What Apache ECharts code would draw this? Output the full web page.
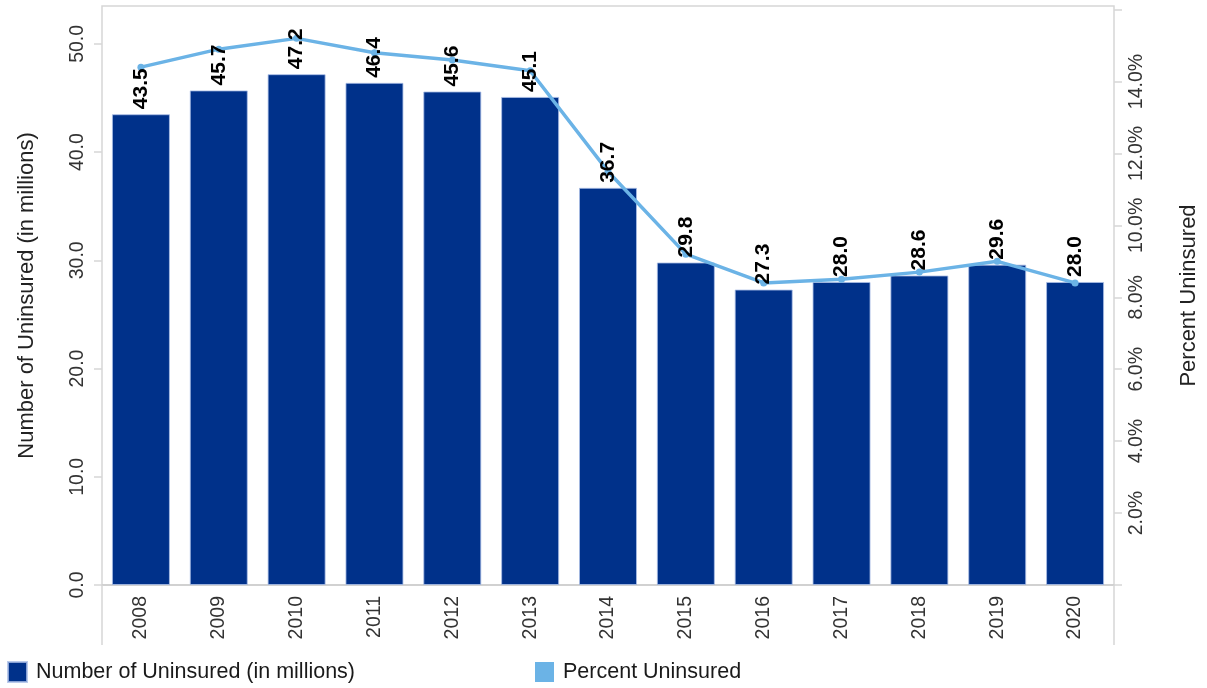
<!DOCTYPE html>
<html>
<head>
<meta charset="utf-8">
<script src="https://cdn.jsdelivr.net/npm/echarts@6/dist/echarts.min.js"></script>
<style>
html,body{margin:0;padding:0;background:#fff;}
#chart{width:1207px;height:688px;}
</style>
</head>
<body>
<div id="chart"></div>
<script>
const years = ['2008','2009','2010','2011','2012','2013','2014','2015','2016','2017','2018','2019','2020'];
const uninsuredMillions = [43.5, 45.7, 47.2, 46.4, 45.6, 45.1, 36.7, 29.8, 27.3, 28.0, 28.6, 29.6, 28.0];
const percentUninsured = [14.4, 14.9, 15.2, 14.8, 14.6, 14.3, 11.5, 9.2, 8.4, 8.5, 8.7, 9.0, 8.4];
const seriesNames = ['Number of Uninsured (in millions)', 'Percent Uninsured'];
const leftAxisName = 'Number of Uninsured (in millions)';
const rightAxisName = 'Percent Uninsured';

const FONT = '"Liberation Sans", Arial, sans-serif';
const chart = echarts.init(document.getElementById('chart'), null, {renderer: 'canvas'});

chart.setOption({
  animation: false,
  backgroundColor: '#ffffff',
  textStyle: {fontFamily: FONT},
  grid: {
    left: 102, right: 93, top: 6, bottom: 103,
    show: true, borderColor: '#d6d6d6', borderWidth: 1.5,
    outerBoundsMode: 'none'
  },
  legend: {
    left: 7, top: 661, padding: 0,
    icon: 'rect',
    itemWidth: 19, itemHeight: 20, itemGap: 180,
    textStyle: {fontSize: 21.5, color: '#1a1a1a', fontFamily: FONT, padding: [0,0,0,4]},
    data: seriesNames
  },
  xAxis: {
    type: 'category',
    data: years,
    boundaryGap: true,
    axisLine: {show: true, lineStyle: {color: '#cccccc', width: 1.5}},
    axisTick: {show: true, length: 60, lineStyle: {color: '#d6d6d6', width: 1.5},
      interval: function (i) { return i === 0; }},
    axisLabel: {interval: 0, rotate: 90, margin: 11, fontSize: 19.5, color: '#333', fontFamily: FONT},
    splitLine: {show: false}
  },
  yAxis: [
    {
      type: 'value', min: 0, max: 53.5, interval: 10,
      name: leftAxisName, nameLocation: 'middle', nameGap: 64,
      nameTextStyle: {fontSize: 22, color: '#222', fontFamily: FONT},
      axisLine: {show: false},
      axisTick: {show: true, length: 8, lineStyle: {color: '#d6d6d6', width: 1.5}},
      axisLabel: {rotate: 90, margin: 14, fontSize: 19.5, color: '#333', fontFamily: FONT,
        showMaxLabel: false,
        formatter: function (v) { return (Math.abs(v % 10) < 1e-6) ? v.toFixed(1) : ''; }},
      splitLine: {show: false}
    },
    {
      type: 'value', min: 0, max: 16.1, interval: 2,
      name: rightAxisName, nameLocation: 'middle', nameGap: 64,
      nameTextStyle: {fontSize: 22, color: '#222', fontFamily: FONT},
      axisLine: {show: false},
      axisTick: {show: true, length: 8, lineStyle: {color: '#d6d6d6', width: 1.5}},
      axisLabel: {rotate: 90, margin: 13, fontSize: 19.5, color: '#333', fontFamily: FONT,
        showMaxLabel: false,
        formatter: function (v) { return (v > 0.5 && v < 15) ? v.toFixed(1) + '%' : ''; }},
      splitLine: {show: false}
    }
  ],
  series: [
    {
      name: seriesNames[0],
      type: 'bar',
      yAxisIndex: 0,
      data: uninsuredMillions,
      barWidth: 58,
      itemStyle: {color: '#00318A', borderColor: 'rgba(170,190,230,0.8)', borderWidth: 1},
      z: 1
    },
    {
      name: seriesNames[1],
      type: 'line',
      yAxisIndex: 1,
      data: percentUninsured,
      symbol: 'circle', symbolSize: 7,
      lineStyle: {color: '#6BB3E6', width: 3.5},
      itemStyle: {color: '#6BB3E6'},
      z: 2
    },
    {
      name: 'labels',
      type: 'bar',
      yAxisIndex: 0,
      data: uninsuredMillions,
      barWidth: 58,
      barGap: '-100%',
      itemStyle: {color: 'rgba(0,0,0,0)'},
      silent: true,
      label: {
        show: true, position: 'top', rotate: 90, align: 'left', verticalAlign: 'middle',
        distance: 5, fontSize: 21, fontWeight: 'bold', color: '#000', fontFamily: FONT,
        formatter: function (p) { return p.value.toFixed(1); }
      },
      z: 5
    }
  ]
});
</script>
</body>
</html>
